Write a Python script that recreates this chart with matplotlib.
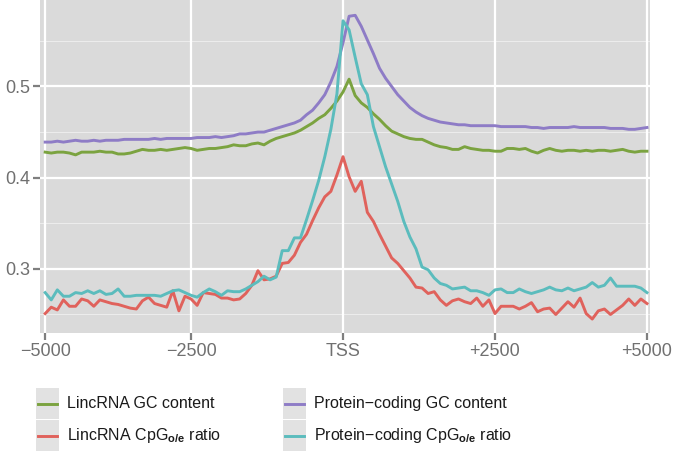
import numpy as np
import matplotlib
matplotlib.use("Agg")
import matplotlib.pyplot as plt
from matplotlib.patches import Rectangle
from matplotlib.lines import Line2D

plt.rcParams['font.family'] = ['Liberation Sans', 'DejaVu Sans']
plt.rcParams['mathtext.fontset'] = 'custom'
plt.rcParams['mathtext.rm'] = 'Liberation Sans'
plt.rcParams['mathtext.bf'] = 'Liberation Sans:bold'

# distance to TSS (bp), one point every 100 bp
pos = np.arange(-4900, 5001, 100)

# Protein-coding GC content
pc_gc = [0.439, 0.439, 0.440, 0.439, 0.440, 0.441, 0.440, 0.440, 0.441, 0.440,
         0.441, 0.441, 0.441, 0.442, 0.442, 0.442, 0.442, 0.442, 0.443, 0.442,
         0.443, 0.443, 0.443, 0.443, 0.443, 0.444, 0.444, 0.444, 0.445, 0.444,
         0.445, 0.446, 0.448, 0.448, 0.449, 0.450, 0.450, 0.452, 0.454, 0.456,
         0.458, 0.460, 0.463, 0.469, 0.474, 0.482, 0.491, 0.505, 0.522, 0.548,
         0.577, 0.578, 0.566, 0.551, 0.536, 0.520, 0.509, 0.500, 0.491, 0.484,
         0.477, 0.472, 0.468, 0.465, 0.463, 0.461, 0.460, 0.459, 0.458, 0.458,
         0.457, 0.457, 0.457, 0.457, 0.457, 0.456, 0.456, 0.456, 0.456, 0.456,
         0.455, 0.455, 0.454, 0.455, 0.455, 0.455, 0.455, 0.456, 0.455, 0.455,
         0.455, 0.455, 0.455, 0.454, 0.454, 0.454, 0.453, 0.453, 0.454, 0.455]

# LincRNA GC content
linc_gc = [0.428, 0.427, 0.428, 0.428, 0.427, 0.425, 0.428, 0.428, 0.428, 0.429,
           0.428, 0.428, 0.426, 0.426, 0.427, 0.429, 0.431, 0.430, 0.430, 0.431,
           0.430, 0.431, 0.432, 0.433, 0.432, 0.430, 0.431, 0.432, 0.432, 0.433,
           0.434, 0.436, 0.435, 0.435, 0.437, 0.438, 0.436, 0.440, 0.443, 0.445,
           0.447, 0.449, 0.452, 0.456, 0.460, 0.465, 0.469, 0.476, 0.484, 0.494,
           0.508, 0.490, 0.482, 0.477, 0.470, 0.464, 0.457, 0.451, 0.448, 0.445,
           0.443, 0.442, 0.442, 0.439, 0.436, 0.434, 0.433, 0.431, 0.431, 0.434,
           0.432, 0.431, 0.430, 0.430, 0.429, 0.429, 0.432, 0.432, 0.431, 0.432,
           0.429, 0.427, 0.430, 0.432, 0.430, 0.429, 0.430, 0.430, 0.429, 0.430,
           0.429, 0.430, 0.430, 0.429, 0.430, 0.431, 0.429, 0.428, 0.429, 0.429]

# LincRNA CpG o/e ratio
linc_cpg = [0.251, 0.258, 0.255, 0.266, 0.259, 0.259, 0.267, 0.265, 0.259, 0.266,
            0.264, 0.262, 0.261, 0.259, 0.257, 0.256, 0.265, 0.269, 0.262, 0.260,
            0.258, 0.276, 0.254, 0.270, 0.267, 0.260, 0.274, 0.273, 0.272, 0.268,
            0.268, 0.266, 0.267, 0.273, 0.282, 0.298, 0.288, 0.289, 0.292, 0.306,
            0.307, 0.315, 0.329, 0.338, 0.353, 0.367, 0.379, 0.385, 0.403, 0.423,
            0.401, 0.385, 0.396, 0.362, 0.352, 0.338, 0.325, 0.312, 0.306, 0.298,
            0.290, 0.280, 0.279, 0.273, 0.275, 0.266, 0.260, 0.265, 0.267, 0.264,
            0.262, 0.268, 0.259, 0.266, 0.251, 0.259, 0.259, 0.259, 0.256, 0.259,
            0.263, 0.253, 0.256, 0.257, 0.250, 0.257, 0.264, 0.258, 0.268, 0.251,
            0.245, 0.254, 0.256, 0.250, 0.255, 0.260, 0.267, 0.260, 0.267, 0.262]

# Protein-coding CpG o/e ratio
pc_cpg = [0.274, 0.266, 0.277, 0.270, 0.270, 0.274, 0.273, 0.276, 0.273, 0.276,
          0.272, 0.273, 0.278, 0.270, 0.270, 0.271, 0.271, 0.271, 0.271, 0.270,
          0.273, 0.276, 0.277, 0.274, 0.271, 0.269, 0.274, 0.278, 0.275, 0.271,
          0.276, 0.275, 0.275, 0.278, 0.282, 0.286, 0.292, 0.288, 0.291, 0.320,
          0.320, 0.334, 0.334, 0.354, 0.375, 0.397, 0.423, 0.453, 0.492, 0.572,
          0.562, 0.532, 0.503, 0.491, 0.456, 0.434, 0.412, 0.393, 0.374, 0.352,
          0.335, 0.322, 0.302, 0.299, 0.290, 0.284, 0.282, 0.278, 0.279, 0.280,
          0.276, 0.276, 0.274, 0.271, 0.277, 0.278, 0.274, 0.274, 0.278, 0.275,
          0.273, 0.275, 0.277, 0.280, 0.277, 0.276, 0.279, 0.276, 0.278, 0.280,
          0.285, 0.280, 0.282, 0.290, 0.281, 0.281, 0.281, 0.281, 0.279, 0.274]

xtick_pos = [-4900, -2500, 0, 2500, 5000]
xtick_labels = ['\u22125000', '\u22122500', 'TSS', '+2500', '+5000']
ytick_pos = [0.3, 0.4, 0.5]

cpg_sub = r'CpG$_{\mathbf{o/e}}$'
series = [
    ('LincRNA GC content', linc_gc, '#7ba340'),
    ('LincRNA ' + cpg_sub + ' ratio', linc_cpg, '#e0625c'),
    ('Protein\u2212coding GC content', pc_gc, '#8e7cc6'),
    ('Protein\u2212coding ' + cpg_sub + ' ratio', pc_cpg, '#5bbcbd'),
]

W, H = 675, 454
fig = plt.figure(figsize=(W / 100, H / 100), dpi=100)
ax = fig.add_axes([40 / W, (H - 333) / H, 610 / W, 333 / H])
ax.set_facecolor('#dadada')
for s in ax.spines.values():
    s.set_visible(False)

# grid, ggplot style
for y in [0.25, 0.35, 0.45, 0.55]:
    ax.axhline(y, color='#ececec', lw=0.8, zorder=0)
for y in ytick_pos:
    ax.axhline(y, color='white', lw=1.6, zorder=0)
for x in xtick_pos:
    ax.axvline(x, color='white', lw=1.6, zorder=0)

for name, vals, col in series:
    ax.plot(pos, vals, color=col, lw=2.1, solid_joinstyle='round', zorder=2)

ax.set_xlim(-4985, 5050)
ax.set_ylim(0.2297, 0.5948)
ax.set_xticks(xtick_pos)
ax.set_xticklabels(xtick_labels)
ax.set_yticks(ytick_pos)
ax.set_yticklabels(['0.3', '0.4', '0.5'])
ax.tick_params(axis='both', colors='#7f7f7f', length=5, width=1.6,
               labelsize=13, labelcolor='#707070', pad=2)

# legend below the panel
cols_x = [36, 283]
rows_y = [388, 420]
for i, (name, vals, col) in enumerate(series):
    cx = cols_x[i // 2]
    ry = rows_y[i % 2]
    fig.add_artist(Rectangle((cx / W, 1 - (ry + 31) / H), 23 / W, 31 / H,
                             transform=fig.transFigure, facecolor='#e2e2e2',
                             edgecolor='none'))
    yc = 1 - (ry + 15.5) / H
    fig.add_artist(Line2D([(cx + 2) / W, (cx + 21) / W], [yc, yc],
                          transform=fig.transFigure, color=col, lw=2.1))
    fig.text((cx + 31) / W, yc, name, fontsize=11.5, color='#1a1a1a',
             va='center', ha='left')

fig.savefig('out.png', dpi=100)
